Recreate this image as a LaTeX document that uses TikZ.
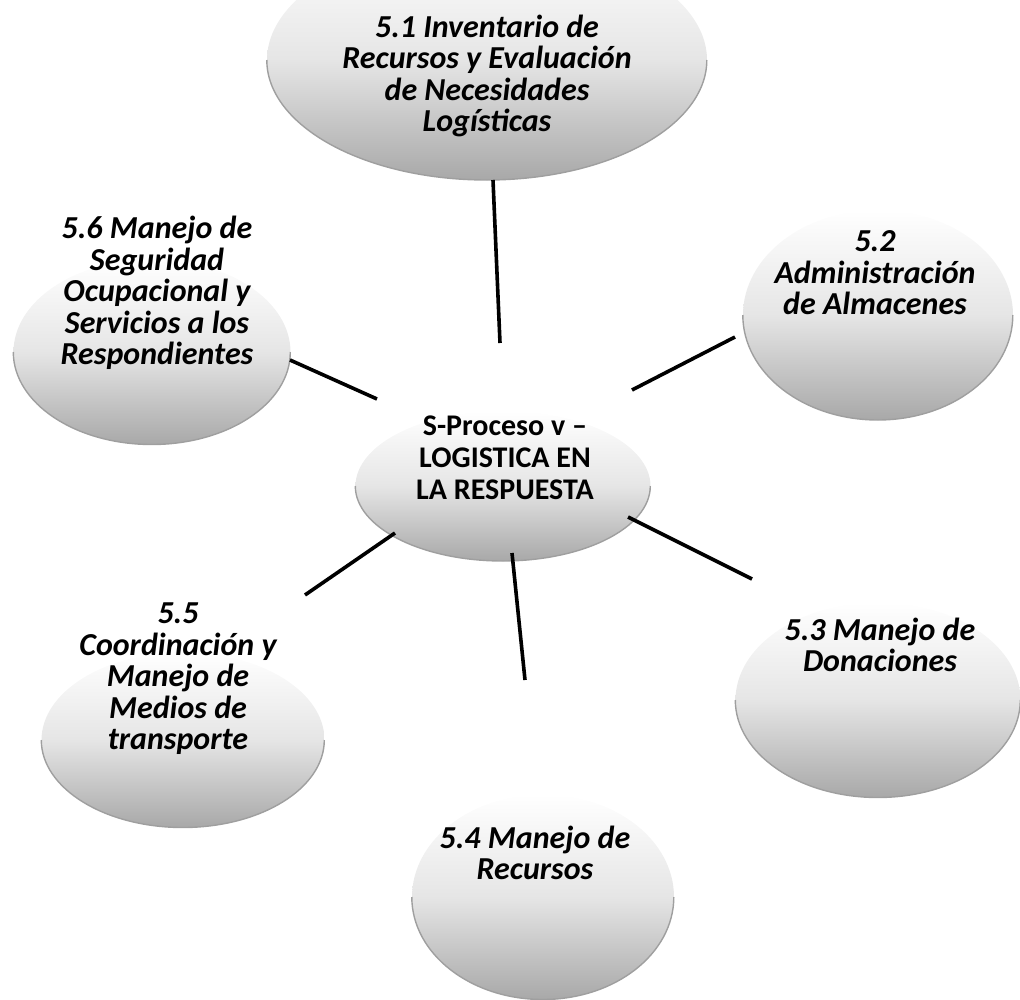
\documentclass[tikz,border=0pt]{standalone}
\usepackage{fontspec}
\setmainfont{Carlito}
\usetikzlibrary{shapes.geometric}
\tikzset{
  bubble/.style={ellipse, inner sep=0pt, top color=white, bottom color=gray!68, middle color=gray!20},
  rim/.style={draw=gray!75, line width=1.4pt},
  label/.style={align=center, font=\fontsize{32}{31.5}\selectfont\bfseries\itshape, text=black},
  hub/.style={align=center, font=\fontsize{30}{32}\selectfont\bfseries, text=black},
  link/.style={line width=3.6pt, black}
}
\begin{document}
\begin{tikzpicture}[x=1pt,y=-1pt]
\useasboundingbox (0,0) rectangle (1020,999);
% bubbles
\node[bubble, minimum width=440pt, minimum height=240pt] (e1) at (487,60) {};
\node[bubble, minimum width=270pt, minimum height=210pt] (e2) at (878,315) {};
\node[bubble, minimum width=285pt, minimum height=195pt] (e3) at (878,700) {};
\node[bubble, minimum width=262pt, minimum height=205pt] (e4) at (543,897) {};
\node[bubble, minimum width=283pt, minimum height=175pt] (e5) at (183,740) {};
\node[bubble, minimum width=277pt, minimum height=185pt] (e6) at (152,352) {};
\node[bubble, minimum width=295pt, minimum height=150pt] (ec) at (503,486) {};
% lower rims
\draw[rim] (e1.west) arc[start angle=180, end angle=360, x radius=220pt, y radius=120pt];
\draw[rim] (e2.west) arc[start angle=180, end angle=360, x radius=135pt, y radius=105pt];
\draw[rim] (e3.west) arc[start angle=180, end angle=360, x radius=142.5pt, y radius=97.5pt];
\draw[rim] (e4.west) arc[start angle=180, end angle=360, x radius=131pt, y radius=102.5pt];
\draw[rim] (e5.west) arc[start angle=180, end angle=360, x radius=141.5pt, y radius=87.5pt];
\draw[rim] (e6.west) arc[start angle=180, end angle=360, x radius=138.5pt, y radius=92.5pt];
\draw[rim] (ec.west) arc[start angle=180, end angle=360, x radius=147.5pt, y radius=75pt];
% texts
\node[label] (t1) at (487,76) {5.1 Inventario de\\Recursos y Evaluación\\de Necesidades\\Logísticas};
\node[label] (t2) at (875,273) {5.2\\Administración\\de Almacenes};
\node[label] (t3) at (880,645) {5.3 Manejo de\\Donaciones};
\node[label] (t4) at (535,853) {5.4 Manejo de\\Recursos};
\node[label] (t5) at (178,679) {5.5\\Coordinación y\\Manejo de\\Medios de\\transporte};
\node[label] (t6) at (157,293) {5.6 Manejo de\\Seguridad\\Ocupacional y\\Servicios a los\\Respondientes};
\node[hub] (tc) at (505,458) {S-Proceso v –\\LOGISTICA EN\\LA RESPUESTA};
% connector ends
\coordinate (a1) at (493,180); \coordinate (b1) at (500,343);
\coordinate (a2) at (735,337); \coordinate (b2) at (632,390);
\coordinate (a3) at (752,579); \coordinate (b3) at (628,517);
\coordinate (a4) at (525,680); \coordinate (b4) at (512,553);
\coordinate (a5) at (305,595); \coordinate (b5) at (395,533);
\coordinate (a6) at (290,360); \coordinate (b6) at (377,399);
\draw[link] (a1) -- (b1);
\draw[link] (a2) -- (b2);
\draw[link] (a3) -- (b3);
\draw[link] (a4) -- (b4);
\draw[link] (a5) -- (b5);
\draw[link] (a6) -- (b6);
\end{tikzpicture}
\end{document}
